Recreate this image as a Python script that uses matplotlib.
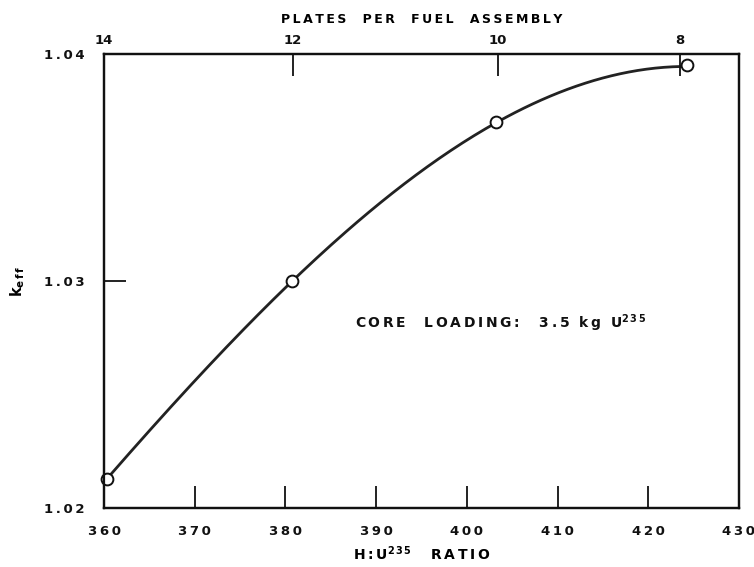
import numpy as np
import matplotlib.pyplot as plt

# measured points (H:U235 ratio, k_eff)
ratio = [360.3, 380.7, 403.2, 424.3]
keff = [1.0213, 1.0300, 1.0370, 1.0395]

# faired curve
curve_ratio = [360.3, 370, 380.7, 390, 400, 403.2, 410, 420, 424.3]
curve_keff = [1.0213, 1.02555, 1.0300, 1.0333, 1.03618, 1.0370, 1.03827, 1.03926, 1.0395]

x_ticks = [360, 370, 380, 390, 400, 410, 420, 430]
y_ticks = [1.02, 1.03, 1.04]
y_labels = ['1.02', '1.03', '1.04']

# plates per fuel assembly, placed on the ratio scale
plate_pos = [360, 380.8, 403.4, 423.5]
plate_labels = ['14', '12', '10', '8']

TS = '\u2009'


def spaced(s):
    """Open up the lettering like the stencil text in the original"""
    return TS.join(s.replace(' ', '  '))


plt.rcParams['font.family'] = ['DejaVu Sans']
plt.rcParams['font.weight'] = 'bold'
plt.rcParams['axes.labelweight'] = 'bold'
plt.rcParams['mathtext.default'] = 'bf'

fig = plt.figure(figsize=(7.54, 5.67), dpi=100)
ax = fig.add_axes([0.138, 0.104, 0.842, 0.801])

cx = np.linspace(curve_ratio[0], curve_ratio[-1], 200)
cy = np.polyval(np.polyfit(curve_ratio, curve_keff, 3), cx)
ax.plot(cx, cy, color='#222222', lw=2.0, zorder=2)
ax.plot(ratio, keff, 'o', ms=8.5, mfc='white', mec='#111111', mew=1.4,
        zorder=3, clip_on=False)

ax.set_xlim(360, 430)
ax.set_ylim(1.02, 1.04)
ax.set_xticks(x_ticks)
ax.set_xticklabels([spaced(str(t)) for t in x_ticks])
ax.set_yticks(y_ticks)
ax.set_yticklabels([spaced(t) for t in y_labels])
ax.tick_params(axis='both', direction='in', length=16, width=1.3,
               labelsize=9.5, colors='#111111')
ax.tick_params(axis='x', pad=12)
ax.tick_params(axis='y', pad=14)
for sp in ax.spines.values():
    sp.set_linewidth(1.6)
    sp.set_color('#111111')

ax.set_xlabel('H' + TS + ':' + TS + 'U$^{2\\,3\\,5}$    ' + spaced('RATIO'),
              fontsize=10, labelpad=5)
ax.set_ylabel('k$_{e\\,f\\,f}$', fontsize=10.5, labelpad=12)

top = ax.twiny()
top.set_xlim(ax.get_xlim())
top.set_xticks(plate_pos)
top.set_xticklabels(plate_labels)
top.tick_params(axis='x', direction='in', length=16, width=1.3,
                labelsize=9.5, pad=5, colors='#111111')
top.set_xlabel(spaced('PLATES PER FUEL ASSEMBLY'), fontsize=9, labelpad=8)
for sp in top.spines.values():
    sp.set_linewidth(1.6)
    sp.set_color('#111111')

ax.text(387.7, 1.02815,
        spaced('CORE LOADING:') + '    ' + spaced('3.5') + '  ' + spaced('kg')
        + '  U$^{2\\,3\\,5}$',
        fontsize=10, va='center', ha='left', color='#111111')

fig.savefig('out.png', dpi=100)
